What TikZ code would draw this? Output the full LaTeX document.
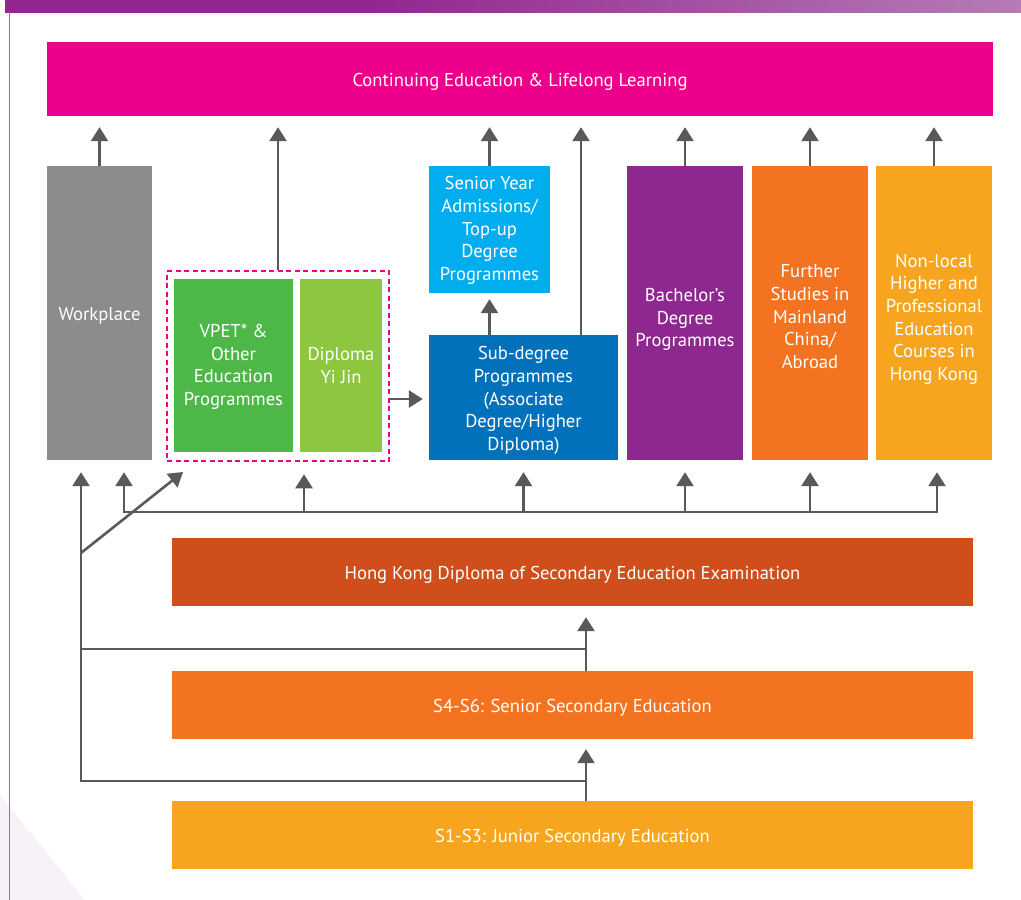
\documentclass[tikz,border=0pt]{standalone}
\usepackage{fontspec}
\setmainfont{PT Sans}
\usetikzlibrary{arrows.meta}
\definecolor{cpink}{HTML}{EC008C}
\definecolor{cgray}{HTML}{8C8C8F}
\definecolor{cgreen}{HTML}{4DB848}
\definecolor{clime}{HTML}{8DC63F}
\definecolor{csky}{HTML}{00AEEF}
\definecolor{cblue}{HTML}{0071BA}
\definecolor{cpurple}{HTML}{8E278F}
\definecolor{corange}{HTML}{F37321}
\definecolor{cyellow}{HTML}{F7A51E}
\definecolor{crust}{HTML}{D04E1C}
\definecolor{carrow}{HTML}{58595B}
\definecolor{ctopA}{HTML}{92278F}
\definecolor{ctopB}{HTML}{B57CB6}
\definecolor{cfaint}{HTML}{F7F2F7}
\pgfdeclarehorizontalshading{topbar}{100bp}{color(0bp)=(ctopA); color(25bp)=(ctopA); color(43bp)=(ctopA); color(75bp)=(ctopB); color(100bp)=(ctopB)}
\newcommand\firststrut[1]{\rule{0pt}{#1}}
\begin{document}
\begin{tikzpicture}[x=1pt,y=-1pt,
  box/.style={inner sep=0pt, align=center, text=white,
    font=\fontsize{18.6}{22.7}\selectfont},
  arr/.style={draw=carrow, line width=2.6pt, -{Triangle[width=17pt,length=14pt]}},
  ln/.style={draw=carrow, line width=2.6pt}]
\useasboundingbox (0,0) rectangle (1021,900);
% frame decorations
\fill[cfaint] (0,795) -- (85,900) -- (0,900) -- cycle;
\shade[shading=topbar] (5,0) rectangle (1021,12);
\draw[gray, line width=1pt] (9.5,12) -- (9.5,900);
% boxes
\node[box, fill=cpink, minimum width=946pt, minimum height=74pt] (pink) at (520,79) {\firststrut{18.5pt}Continuing Education \& Lifelong Learning};
\node[box, fill=cgray, minimum width=105pt, minimum height=294pt] (work) at (99.5,313) {\firststrut{18pt}Workplace};
\node[box, fill=cgreen, minimum width=119pt, minimum height=173pt] (vpet) at (233.5,365.5) {\firststrut{16pt}VPET* \&\\Other\\Education\\Programmes};
\node[box, fill=clime, minimum width=82pt, minimum height=173pt] (dyj) at (341,365.5) {Diploma\\Yi Jin};
\node[draw=cpink, line width=2.6pt, dash pattern=on 5pt off 3.5pt, minimum width=222pt, minimum height=190pt, inner sep=0pt] (dbox) at (278,366) {};
\node[box, fill=csky, minimum width=121pt, minimum height=127pt] (senior) at (489.5,229.5) {\firststrut{15.5pt}Senior Year\\Admissions/\\Top-up\\Degree\\Programmes};
\node[box, fill=cblue, minimum width=189pt, minimum height=125pt] (sub) at (523.5,397.5) {\firststrut{19.5pt}Sub-degree\\Programmes\\(Associate\\Degree/Higher\\Diploma)};
\node[box, fill=cpurple, minimum width=116pt, minimum height=294pt] (bach) at (685,313) {\firststrut{26.5pt}Bachelor’s\\Degree\\Programmes};
\node[box, fill=corange, minimum width=116pt, minimum height=294pt] (further) at (810,313) {\firststrut{20.5pt}Further\\Studies in\\Mainland\\China/\\Abroad};
\node[box, fill=cyellow, minimum width=116pt, minimum height=294pt] (nonlocal) at (934,313) {\firststrut{25.5pt}Non-local\\Higher and\\Professional\\Education\\Courses in\\Hong Kong};
\node[box, fill=crust, minimum width=801pt, minimum height=68pt] (hkdse) at (572.5,572) {\firststrut{18.5pt}Hong Kong Diploma of Secondary Education Examination};
\node[box, fill=corange, minimum width=801pt, minimum height=68pt] (s46) at (572.5,705) {\firststrut{18pt}S4-S6: Senior Secondary Education};
\node[box, fill=cyellow, minimum width=801pt, minimum height=68pt] (s13) at (572.5,835) {\firststrut{18pt}S1-S3: Junior Secondary Education};
% arrows up to pink
\foreach \n in {work,dbox,senior,bach,further,nonlocal}
  \draw[arr, shorten >=11pt] (\n.north) -- (\n.north |- pink.south);
\coordinate (subup) at (581,335);
\draw[arr, shorten >=11pt] (subup) -- (subup |- pink.south);
\draw[arr, shorten >=6pt] (sub.north -| senior) -- (senior.south);
\coordinate (dout) at (389,399);
\draw[arr, shorten >=6pt] (dout) -- (dout -| sub.west);
% bus under top row
\coordinate (busL) at (124,512);
\coordinate (busR) at (937,512);
\coordinate (busD) at (304,512);
\draw[ln, line cap=rect] (busL) -- (busR);
\draw[arr, shorten >=12pt] (busL) -- (busL |- work.south);
\draw[arr, shorten >=12pt] (busD) -- (busD |- dbox.south);
\draw[arr, shorten >=12pt] (busL -| sub.south) -- (sub.south);
\draw[arr, shorten >=12pt] (busL -| bach.south) -- (bach.south);
\draw[arr, shorten >=12pt] (busL -| further.south) -- (further.south);
\draw[arr, shorten >=12pt] (busR) -- (busR |- nonlocal.south);
% left spine
\coordinate (spB) at (81,781);
\coordinate (spM) at (81,649);
\coordinate (spD) at (81,553);
\coordinate (diagtip) at (183,472);
\coordinate (colx) at (586,700);
\draw[arr, shorten >=12pt] (spB) -- (spB |- work.south);
\draw[arr] (spD) -- (diagtip);
\draw[ln, line cap=rect] (spB) -- (spB -| colx);
\draw[ln, line cap=rect] (spM) -- (spM -| colx);
\draw[arr, shorten >=10pt] (s13.north -| colx) -- (s46.south -| colx);
\draw[arr, shorten >=11pt] (s46.north -| colx) -- (hkdse.south -| colx);
\end{tikzpicture}
\end{document}
